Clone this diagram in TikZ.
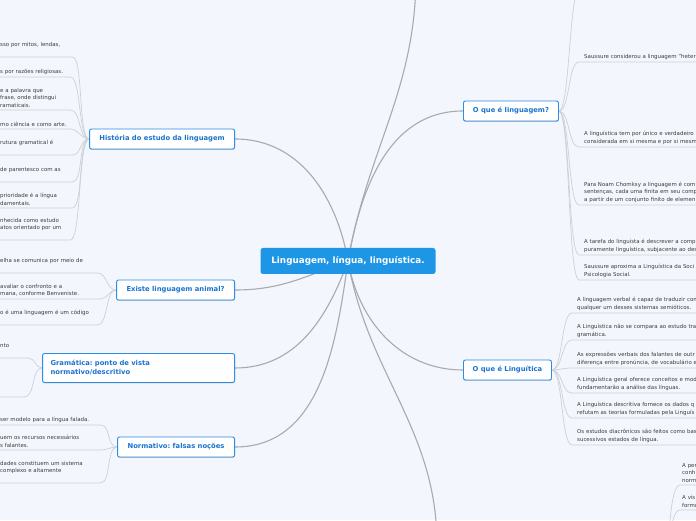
\documentclass[tikz,border=0pt]{standalone}
\usepackage{fontspec}
\setmainfont{DejaVu Sans}
\usetikzlibrary{shadows}
\definecolor{bgcol}{HTML}{F3F6FC}
\definecolor{hubblue}{HTML}{1E96E5}
\definecolor{frameblue}{HTML}{2B8DE6}
\definecolor{topictext}{HTML}{1B73CE}
\definecolor{leaftext}{HTML}{3C3C3C}
\definecolor{leafline}{HTML}{CDD0D6}
\definecolor{branchline}{HTML}{A8AAAF}
\pgfdeclarelayer{bg}
\pgfdeclarelayer{links}
\pgfsetlayers{bg,links,main}
\frenchspacing
\begin{document}
\begin{tikzpicture}[x=1pt,y=1pt,
                    hub/.style={fill=hubblue,text=white,rounded corners=2.5pt,
                                minimum width=175pt,minimum height=26pt,
                                font=\fontsize{8.8}{10}\selectfont\bfseries},
                    topic/.style={draw=frameblue,line width=0.9pt,fill=white,
                                  rounded corners=2pt,text=topictext,minimum height=20pt,
                                  font=\fontsize{6.8}{9}\selectfont\bfseries,
                                  drop shadow={shadow xshift=0.2pt,shadow yshift=-0.9pt,
                                               fill=black!45,opacity=0.45}},
                    leaf/.style={anchor=south west,inner xsep=0pt,inner ysep=2.6pt,
                                 align=left,text=leaftext,
                                 font=\fontsize{5.45}{7.3}\selectfont},
                    branch/.style={draw=branchline,line width=1.1pt},
                    twig/.style={draw=leafline,line width=0.7pt},
                    sidebend/.style={out=0,in=180,out max distance=11pt,in max distance=11pt}]

  \useasboundingbox (0,0) rectangle (696,520);
  \begin{pgfonlayer}{bg}
    \fill[bgcol] (0,0) rectangle (696,520);
  \end{pgfonlayer}

  \node[hub] (hub) at (348,259) {Linguagem, língua, linguística.};

  \node[topic,minimum width=145pt,anchor=east] (hist) at (235,381) {História do estudo da linguagem};
  \node[topic,minimum width=118pt,anchor=east] (anim) at (235,230) {Existe linguagem animal?};
  \node[topic,minimum width=192pt,minimum height=29pt,text width=176pt,align=left,anchor=east]
       (gram) at (235,152) {Gramática: ponto de vista\\normativo/descritivo};
  \node[topic,minimum width=117pt,anchor=east] (norm) at (235,73) {Normativo: falsas noções};
  \node[topic,minimum width=95pt,anchor=west] (lang) at (463,409) {O que é linguagem?};
  \node[topic,minimum width=88pt,anchor=west] (ling) at (463,150) {O que é Linguítica};

  \coordinate (upper) at (416,545);
  \coordinate (lower) at (437,-25);
  \coordinate (langtop) at (580,532);
  \coordinate (offright) at (668,-60);

  \node[leaf,text width=72pt] (h1) at (0,463) {sso por mitos, lendas,\\\null};
  \node[leaf,text width=70pt] (h2) at (0,443) {s por razões religiosas.};
  \node[leaf,text width=70pt] (h3) at (0,410) {e a palavra que\\frase, onde distingui\\ramaticais.};
  \node[leaf,text width=70pt] (h4) at (0,391) {mo ciência e como arte.};
  \node[leaf,text width=72pt] (h5) at (0,365) {rutura gramatical é\\\null};
  \node[leaf,text width=72pt] (h6) at (0,338) {de parentesco com as\\\null};
  \node[leaf,text width=72pt] (h7) at (0,312) {prioridade é a língua\\damentais.};
  \node[leaf,text width=70pt] (h8) at (0,280) {nhecida como estudo\\atos orientado por um\\\null};

  \node[leaf,text width=97pt]  (e1) at (0,247) {elha se comunica por meio de\\\null};
  \node[leaf,text width=100pt] (e2) at (0,221) {avaliar o confronto e a\\mana, conforme Benveniste.};
  \node[leaf,text width=97pt]  (e3) at (0,195) {o é uma linguagem é um código\\\null};

  \node[leaf,text width=28pt] (g1) at (0,162) {nto\\\null};
  \node[leaf,text width=24pt] (g2) at (0,123) {};

  \node[leaf,text width=100pt] (n1) at (0,95) {ser modelo para a língua falada.};
  \node[leaf,text width=100pt] (n2) at (0,70) {uem os recursos necessários\\s falantes.};
  \node[leaf,text width=100pt] (n3) at (0,37) {dades constituem um sistema\\complexo e altamente\\\null};

  \node[leaf,text width=200pt] (q1) at (584,458) {Saussure considerou a linguagem "heter};
  \node[leaf,text width=200pt] (q2) at (584,373) {A linguística tem por único e verdadeiro\\considerada em si mesma e por si mesm};
  \node[leaf,text width=200pt] (q3) at (584,315) {Para Noam Chomksy a linguagem é com\\sentenças, cada uma finita em seu comp\\a partir de um conjunto finito de elemen};
  \node[leaf,text width=200pt] (q4) at (584,265) {A tarefa do linguista é descrever a comp\\puramente linguística, subjacente ao des};
  \node[leaf,text width=200pt] (q5) at (584,240) {Saussure aproxima a Linguística da Soci\\Psicologia Social.};

  \node[leaf,text width=200pt] (r1) at (577,207) {A linguagem verbal é capaz de traduzir con\\qualquer um desses sistemas semióticos.};
  \node[leaf,text width=200pt] (r2) at (577,180) {A Linguística não se compara ao estudo tra\\gramática.};
  \node[leaf,text width=200pt] (r3) at (577,152) {As expressões verbais dos falantes de outr\\diferença entre pronúncia, de vocabulário e};
  \node[leaf,text width=200pt] (r4) at (577,127) {A Linguística geral oferece conceitos e mod\\fundamentarão a análise das línguas.};
  \node[leaf,text width=200pt] (r5) at (577,102) {A Linguística descritiva fornece os dados q\\refutam as teorias formuladas pela Linguís};
  \node[leaf,text width=200pt] (r6) at (577,75) {Os estudos diacrônicos são feitos como bas\\sucessivos estados de língua.};

  \node[leaf,text width=60pt] (b1) at (682,35) {A per\\conh\\norm};
  \node[leaf,text width=60pt] (b2) at (682,10) {A vis\\formu};

  \begin{pgfonlayer}{links}
    \draw[branch] (hub.center) to[out=100,in=0] (hist.east);
    \draw[branch] (hub.center) to[out=200,in=0] (anim.east);
    \draw[branch] (hub.center) to[out=250,in=0] (gram.east);
    \draw[branch] (hub.center) to[out=262,in=0] (norm.east);
    \draw[branch] (hub.center) to[out=80,in=180] (lang.west);
    \draw[branch] (hub.center) to[out=280,in=180] (ling.west);
    \draw[branch] (hub.center) to[out=80,in=270] (upper);
    \draw[branch] (hub.center) to[out=280,in=90] (lower);

    \foreach \l in {h1,h2,h3,h4,h5,h6,h7,h8}
      \draw[twig] (\l.south west) -- (\l.south east) to[sidebend] (hist.west);
    \foreach \l in {e1,e2,e3}
      \draw[twig] (\l.south west) -- (\l.south east) to[sidebend] (anim.west);
    \foreach \l in {g1,g2}
      \draw[twig] (\l.south west) -- (\l.south east) to[sidebend] (gram.west);
    \foreach \l in {n1,n2,n3}
      \draw[twig] (\l.south west) -- (\l.south east) to[sidebend] (norm.west);

    \draw[twig] (lang.east) to[sidebend] (langtop);
    \foreach \l in {q1,q2,q3,q4,q5}
      \draw[twig] (lang.east) to[sidebend] ([xshift=-5pt]\l.south west) -- (\l.south east);
    \foreach \l in {r1,r2,r3,r4,r5,r6}
      \draw[twig] (ling.east) to[sidebend] ([xshift=-5pt]\l.south west) -- (\l.south east);
    \foreach \l in {b1,b2}
      \draw[twig] (offright) to[out=90,in=180,out max distance=60pt,in max distance=10pt]
                  ([xshift=-2pt]\l.south west) -- (\l.south east);
  \end{pgfonlayer}
\end{tikzpicture}
\end{document}
